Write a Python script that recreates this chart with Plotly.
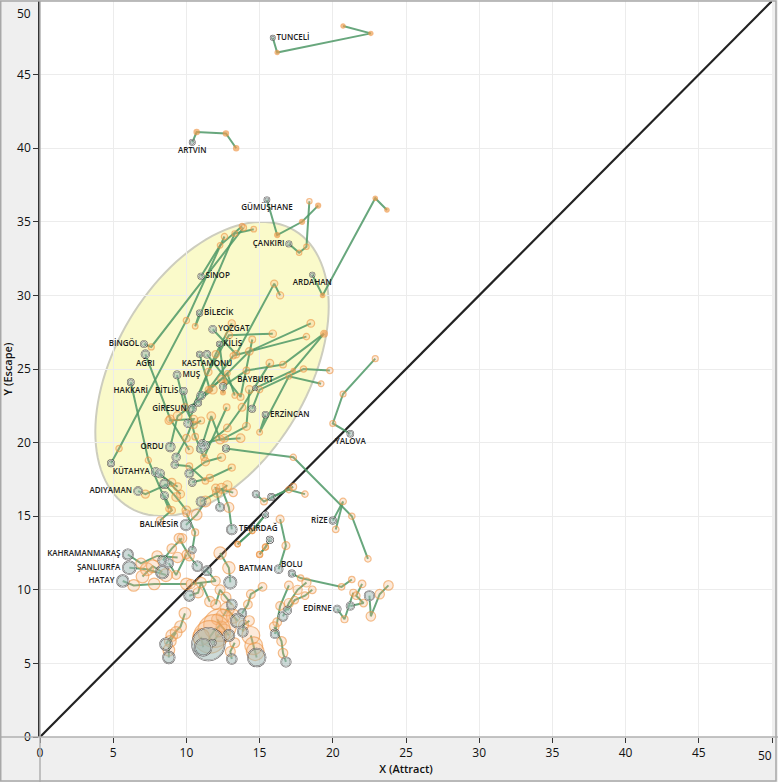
import numpy as np
import plotly.graph_objects as go

# ---- data: one trajectory per province (last point = latest period) ----
names = [
    "TUNCELİ", "ARTVİN", "GÜMÜŞHANE", "ÇANKIRI", "ARDAHAN", "SİNOP", "BİLECİK", "YOZGAT",
    "KİLİS", "BİNGÖL", "AĞRI", "KASTAMONU", "", "MUŞ", "HAKKARİ", "BİTLİS", "GİRESUN",
    "BAYBURT", "ERZİNCAN", "YALOVA", "ORDU", "KÜTAHYA", "", "ADIYAMAN",
    "", "", "", "", "", "", "", "", "", "", "", "", "", "", "", "", "", "", "", "", "", "",
    "BALIKESİR", "TEKİRDAĞ", "RİZE", "BATMAN", "BOLU", "EDİRNE", "", "",
    "KAHRAMANMARAŞ", "ŞANLIURFA", "HATAY",
    "", "", "", "", "", "", "", "", "", "", "", "", "", "", "", "", "", "", "", "", "", "", "", "", "", "",
]
pop_k = [
    85, 170, 150, 180, 100, 200, 210, 420,
    130, 270, 540, 370, 200, 400, 280, 340, 440,
    80, 230, 250, 740, 570, 570, 600,
    500, 300, 350, 300, 450, 550, 500, 700, 300, 500, 350, 290, 600, 700, 400, 450, 800, 600, 350, 300, 200, 250,
    1200, 1000, 330, 560, 310, 400, 500, 900,
    1100, 1900, 1500,
    400, 900, 700, 1800, 1000, 800, 1700, 1100, 1000, 700, 2200, 1300, 1000, 15000, 3500, 250,
    1500, 1500, 1000, 4000, 700, 900, 800, 500, 300, 200,
]
traj_x = [
    [20.7, 22.6, 16.2, 15.9], [13.4, 12.7, 10.7, 10.4], [19.0, 17.9, 16.2, 15.5], [18.4, 18.2, 17.7, 17.0],
    [23.7, 22.9, 19.3, 18.6], [13.8, 12.3, 11.0], [14.6, 13.3, 10.6, 10.9], [16.4, 16.0, 13.4, 11.8],
    [12.5, 12.6, 12.25], [13.9, 7.6, 7.1], [10.2, 8.9, 7.2], [14.5, 13.7, 11.4], [13.3, 12.8, 11.6, 10.9],
    [11.0, 10.5, 9.9, 9.36], [8.8, 7.4, 6.2], [12.75, 11.2, 10.6, 9.8], [13.1, 12.0, 10.4],
    [19.4, 17.3, 14.7], [19.2, 17.0, 15.0, 15.4], [22.9, 20.7, 20.0, 21.2], [11.8, 9.4, 8.9], [9.4, 7.9], [9.6, 8.2],
    [9.0, 7.2, 6.7],
    [18.5, 14.3, 12.4, 11.0], [18.2, 13.2, 11.5, 10.8], [19.4, 16.6, 14.1, 12.5], [19.8, 18.0, 15.0, 14.5],
    [15.9, 12.9, 11.5, 10.1],
    [14.3, 14.1, 12.6, 11.1], [15.7, 13.8, 12.8, 11.3], [13.7, 12.3, 11.7, 11.0], [22.4, 21.3, 17.3, 12.7],
    [8.8, 10.5, 10.0, 9.3],
    [11.3, 10.2, 9.2], [12.6, 10.0, 5.4, 4.85], [12.4, 11.3, 10.2], [10.0, 9.3, 8.5], [13.1, 11.6, 10.4],
    [8.2, 9.0, 8.5], [12.8, 12.1, 11.0], [13.2, 12.0, 12.3], [17.3, 15.3, 14.75], [18.1, 17.0, 15.8],
    [13.5, 14.5, 15.4], [15.0, 15.4, 15.7],
    [11.3, 10.7, 9.97], [12.4, 12.9, 13.1], [20.2, 20.7, 20.0], [16.4, 16.8, 16.3], [21.3, 20.6, 17.8, 17.2],
    [21.4, 20.8, 20.3], [22.0, 21.6, 22.1, 21.2], [23.8, 23.2, 22.6, 22.5],
    [9.4, 8.0, 6.9, 6.0], [8.6, 7.3, 6.1], [10.0, 7.8, 6.4, 5.65],
    [10.0, 10.6, 10.4], [9.7, 9.0, 8.4], [10.0, 9.3, 8.8], [7.0, 7.7, 8.35], [9.5, 10.2, 10.75],
    [10.3, 12.0, 11.4], [12.3, 12.9, 13.0], [11.6, 11.0, 10.8, 10.2], [12.0, 12.3, 12.7, 13.1],
    [15.2, 14.4, 14.2, 13.8],
    [12.5, 12.8, 13.2, 13.5], [12.1, 12.4, 12.6, 12.9], [14.3, 13.9, 13.85], [12.3, 11.9, 11.6, 11.5],
    [11.0, 11.15], [12.2, 11.8],
    [9.9, 9.6, 9.0, 8.6], [9.3, 8.9, 8.8, 8.8], [13.3, 13.0, 13.1], [14.4, 14.6, 14.7, 14.8],
    [17.0, 16.4, 16.2, 16.05],
    [16.0, 16.5, 16.6, 16.8], [18.2, 17.6, 17.0, 16.6], [18.6, 18.1, 17.4, 16.9], [15.0, 15.4, 15.7],
    [13.5, 14.5, 15.4],
]
traj_y = [
    [48.3, 47.8, 46.5, 47.5], [40.0, 41.0, 41.1, 40.4], [36.1, 35.0, 34.1, 36.5], [36.4, 33.3, 32.9, 33.5],
    [35.8, 36.6, 30.0, 31.4], [34.7, 33.4, 31.3], [34.5, 34.2, 27.9, 28.8], [30.0, 30.8, 26.0, 27.7],
    [23.4, 24.1, 26.7], [34.6, 26.5, 26.7], [19.5, 21.6, 26.0], [27.0, 23.1, 26.0], [23.2, 24.7, 23.6, 26.0],
    [21.5, 21.2, 22.4, 24.6], [15.5, 18.8, 24.1], [22.4, 19.0, 20.4, 23.5], [28.1, 26.0, 22.3],
    [27.4, 24.9, 23.7], [24.0, 24.5, 20.7, 21.9], [25.7, 23.3, 21.3, 20.6], [23.6, 21.8, 19.7], [17.0, 18.0],
    [16.5, 17.9],
    [17.3, 16.5, 16.7],
    [28.1, 26.2, 24.3, 23.2], [27.2, 25.9, 23.6, 22.7], [27.4, 25.3, 24.9, 23.8], [24.9, 25.0, 23.6, 22.3],
    [27.4, 27.3, 24.8, 21.3],
    [23.6, 21.1, 20.3, 19.9], [25.4, 22.4, 21.0, 19.8], [20.3, 20.2, 21.8, 19.6], [12.1, 15.0, 19.0, 19.6],
    [21.5, 21.6, 20.3, 19.0],
    [17.4, 18.4, 18.5], [34.0, 28.3, 19.6, 18.6], [19.0, 18.7, 17.9], [15.4, 16.3, 17.2], [18.3, 17.6, 17.3],
    [14.7, 15.4, 16.4], [17.1, 16.6, 16.0], [16.6, 16.9, 15.6], [17.0, 16.0, 16.5], [16.5, 16.8, 16.3],
    [13.1, 14.0, 15.1], [12.4, 12.9, 13.4],
    [16.0, 15.1, 14.4], [16.9, 15.6, 14.1], [14.1, 16.0, 14.7], [14.8, 13.0, 11.4], [10.7, 10.2, 10.8, 11.1],
    [9.8, 8.0, 8.7], [10.4, 9.6, 9.1, 8.9], [10.3, 9.7, 8.2, 9.6],
    [12.2, 12.3, 11.8, 12.4], [11.0, 11.4, 11.5], [10.4, 10.4, 10.3, 10.6],
    [15.2, 13.9, 12.7], [13.5, 12.8, 12.0], [12.4, 11.0, 11.8], [10.9, 11.6, 11.2], [13.5, 12.3, 11.6],
    [10.4, 10.6, 11.3], [12.5, 11.5, 10.5], [9.2, 10.5, 9.8, 9.6], [9.0, 10.0, 9.5, 9.0],
    [10.2, 9.7, 9.0, 8.4],
    [8.2, 8.7, 8.2, 7.9], [8.0, 7.5, 7.3, 6.9], [7.9, 7.6, 7.15], [7.6, 7.2, 6.8, 6.3],
    [6.8, 6.1], [7.0, 6.4],
    [8.4, 7.5, 6.9, 6.3], [7.1, 6.5, 5.9, 5.4], [6.4, 5.8, 5.3], [6.9, 6.2, 5.8, 5.4],
    [10.3, 8.9, 7.8, 7.0],
    [7.5, 6.5, 5.7, 5.1], [10.5, 10.0, 9.1, 8.2], [10.0, 9.6, 9.3, 8.6], [12.4, 12.9, 13.4],
    [13.1, 14.0, 15.1],
]

label_pos = {
    "TUNCELİ": "middle right", "ARTVİN": "bottom center", "GÜMÜŞHANE": "bottom center",
    "ÇANKIRI": "middle left", "ARDAHAN": "bottom center", "SİNOP": "middle right",
    "BİLECİK": "middle right", "YOZGAT": "middle right", "KİLİS": "middle right",
    "BİNGÖL": "middle left", "AĞRI": "bottom center", "KASTAMONU": "bottom center",
    "MUŞ": "middle right", "HAKKARİ": "bottom center", "BİTLİS": "middle left",
    "GİRESUN": "middle left", "BAYBURT": "top center", "ERZİNCAN": "middle right",
    "YALOVA": "bottom center", "ORDU": "middle left", "KÜTAHYA": "middle left",
    "ADIYAMAN": "middle left", "BALIKESİR": "middle left", "TEKİRDAĞ": "middle right",
    "RİZE": "middle left", "BATMAN": "middle left", "BOLU": "top center", "EDİRNE": "middle left",
    "KAHRAMANMARAŞ": "middle left", "ŞANLIURFA": "middle left", "HATAY": "middle left",
}

# ---- ellipse (cluster envelope) parameters ----
ell_cx, ell_cy, ell_a, ell_b, ell_ang = 11.75, 25.0, 10.97, 6.56, 59.0


def diam(p):
    return 2.0 + 0.25 * np.sqrt(p)


line_x, line_y = [], []
ox, oy, osz, ocol = [], [], [], []
ex, ey, esz, etxt, epos = [], [], [], [], []
for n, p, xs, ys in zip(names, pop_k, traj_x, traj_y):
    line_x += list(xs) + [None]
    line_y += list(ys) + [None]
    d = diam(p)
    for x, y in zip(xs[:-1], ys[:-1]):
        ox.append(x)
        oy.append(y)
        osz.append(d)
        ocol.append("rgba(240,158,80,0.95)" if d < 5.3 else "rgba(246,178,120,0.38)")
    ex.append(xs[-1])
    ey.append(ys[-1])
    esz.append(d)
    etxt.append(n)
    epos.append(label_pos.get(n, "middle right"))

t = np.linspace(0, 2 * np.pi, 121)
th = np.radians(ell_ang)
exs = ell_cx + ell_a * np.cos(t) * np.cos(th) - ell_b * np.sin(t) * np.sin(th)
eys = ell_cy + ell_a * np.cos(t) * np.sin(th) + ell_b * np.sin(t) * np.cos(th)
path = "M " + " L ".join(f"{a:.3f},{b:.3f}" for a, b in zip(exs, eys)) + " Z"

fig = go.Figure()
fig.add_trace(go.Scatter(x=[0, 50], y=[0, 50], mode="lines",
                         line=dict(color="#222222", width=2.2), hoverinfo="skip"))
fig.add_trace(go.Scatter(x=line_x, y=line_y, mode="lines",
                         line=dict(color="rgba(78,152,102,0.85)", width=2), hoverinfo="skip"))
fig.add_trace(go.Scatter(x=ox, y=oy, mode="markers",
                         marker=dict(size=osz, color=ocol,
                                     line=dict(color="rgba(238,150,70,0.9)", width=1.2)),
                         hoverinfo="skip"))
fig.add_trace(go.Scatter(x=ex, y=ey, mode="markers",
                         marker=dict(size=esz, color="rgba(160,185,182,0.75)",
                                     line=dict(color="#111111", width=1.6)),
                         hoverinfo="skip"))
fig.add_trace(go.Scatter(x=ex, y=ey, mode="markers+text", text=etxt, textposition=epos,
                         marker=dict(size=esz, color="rgba(0,0,0,0)"),
                         textfont=dict(family="Open Sans", size=8, color="#1a1a1a", weight=600),
                         hoverinfo="skip"))

shapes = [
    dict(type="path", path=path, xref="x", yref="y", layer="below",
         fillcolor="rgba(250,250,196,0.9)", line=dict(color="rgba(205,205,190,1)", width=2)),
    dict(type="line", xref="paper", yref="paper", x0=0, x1=0, y0=-45 / 736, y1=1,
         line=dict(color="#b0b0b0", width=1.5)),
    dict(type="line", xref="paper", yref="paper", x0=-40 / 732, x1=1 + 6 / 732, y0=0, y1=0,
         line=dict(color="#b0b0b0", width=1.5)),
    dict(type="rect", xref="paper", yref="paper", x0=-40 / 732 + 0.001, x1=1 + 4 / 732,
         y0=-44 / 736, y1=1, line=dict(color="#a8a8a8", width=1.5)),
]

fig.update_layout(
    width=778, height=782,
    margin=dict(l=40, r=6, t=1, b=45),
    paper_bgcolor="#efefef", plot_bgcolor="#ffffff",
    showlegend=False, shapes=shapes,
    font=dict(family="Open Sans", color="#111111"),
    annotations=[
        dict(x=0, y=50, xref="paper", yref="y", text="50", showarrow=False,
             xanchor="right", yanchor="top", xshift=-7, yshift=-2,
             font=dict(size=12, family="Open Sans", color="#111111")),
        dict(x=50, y=0, xref="x", yref="paper", text="50", showarrow=False,
             xanchor="right", yanchor="top", xshift=2, yshift=-8,
             font=dict(size=12, family="Open Sans", color="#111111")),
    ],
)
fig.update_xaxes(range=[0, 50], tickvals=list(range(0, 51, 5)), ticktext=[str(v) for v in range(0, 50, 5)] + [""],
                 showgrid=True, gridcolor="#ececec",
                 gridwidth=1, zeroline=False, ticks="outside", ticklen=5, tickcolor="#333333",
                 showline=False, tickfont=dict(size=12), automargin=False,
                 title=dict(text="X (Attract)", font=dict(size=11, weight=600), standoff=4))
fig.update_yaxes(range=[0, 50], tickvals=list(range(0, 50, 5)), showgrid=True, gridcolor="#ececec",
                 gridwidth=1, zeroline=False, ticks="outside", ticklen=5, tickcolor="#333333",
                 showline=True, linecolor="#333333", linewidth=1.5, tickfont=dict(size=12),
                 automargin=False,
                 title=dict(text="Y (Escape)", font=dict(size=11, weight=600), standoff=4))

fig.write_html("out.html", config={"displayModeBar": False},
               post_script="document.body.style.margin='0px';")
